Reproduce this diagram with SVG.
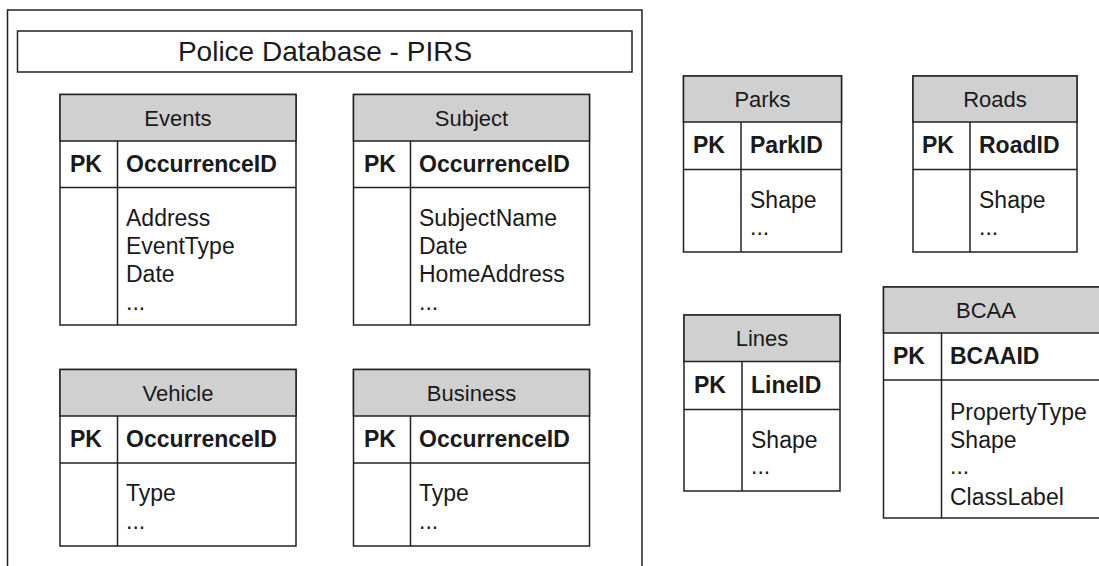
<svg xmlns="http://www.w3.org/2000/svg" width="1099" height="566" viewBox="0 0 1099 566">
  <style>
    .frame { fill: #ffffff; stroke: #222222; stroke-width: 1.5; }
    .head { fill: #d0d0d0; stroke: #222222; stroke-width: 1.5; }
    .cell { fill: #ffffff; stroke: #222222; stroke-width: 1.5; }
    .rule { stroke: #222222; stroke-width: 1.5; }
    text { font-family: "Liberation Sans", Arial, sans-serif; fill: #1a1a1a; }
    .title { font-size: 28px; text-anchor: middle; }
    .hd { font-size: 22px; text-anchor: middle; }
    .pk { font-size: 23px; font-weight: bold; }
    .f { font-size: 23px; }
  </style>

  <!-- PIRS container -->
  <g id="pirs">
    <rect class="frame" x="7.5" y="10" width="634.5" height="600"/>
    <rect class="frame" x="17.5" y="31" width="614.5" height="41"/>
    <text class="title" x="325" y="61">Police Database - PIRS</text>
  </g>

  <!-- Events -->
  <g id="events">
    <rect class="cell" x="60" y="94.5" width="236" height="230.5"/>
    <rect class="head" x="60" y="94.5" width="236" height="46.5"/>
    <line class="rule" x1="60" y1="187.5" x2="296" y2="187.5"/>
    <line class="rule" x1="117.5" y1="141" x2="117.5" y2="325"/>
    <text class="hd" x="178" y="126">Events</text>
    <text class="pk" x="70" y="172">PK</text>
    <text class="pk" x="126" y="172">OccurrenceID</text>
    <text class="f" x="126" y="226">Address</text>
    <text class="f" x="126" y="254">EventType</text>
    <text class="f" x="126" y="282">Date</text>
    <text class="f" x="126" y="310">...</text>
  </g>

  <!-- Subject -->
  <g id="subject">
    <rect class="cell" x="353.5" y="94.5" width="236" height="230.5"/>
    <rect class="head" x="353.5" y="94.5" width="236" height="46.5"/>
    <line class="rule" x1="353.5" y1="187.5" x2="589.5" y2="187.5"/>
    <line class="rule" x1="410.5" y1="141" x2="410.5" y2="325"/>
    <text class="hd" x="471.5" y="126">Subject</text>
    <text class="pk" x="364" y="172">PK</text>
    <text class="pk" x="419" y="172">OccurrenceID</text>
    <text class="f" x="419" y="226">SubjectName</text>
    <text class="f" x="419" y="254">Date</text>
    <text class="f" x="419" y="282">HomeAddress</text>
    <text class="f" x="419" y="310">...</text>
  </g>

  <!-- Vehicle -->
  <g id="vehicle">
    <rect class="cell" x="60" y="369.5" width="236" height="176.5"/>
    <rect class="head" x="60" y="369.5" width="236" height="46.5"/>
    <line class="rule" x1="60" y1="463" x2="296" y2="463"/>
    <line class="rule" x1="117.5" y1="416" x2="117.5" y2="546"/>
    <text class="hd" x="178" y="401">Vehicle</text>
    <text class="pk" x="70" y="447">PK</text>
    <text class="pk" x="126" y="447">OccurrenceID</text>
    <text class="f" x="126" y="501">Type</text>
    <text class="f" x="126" y="529">...</text>
  </g>

  <!-- Business -->
  <g id="business">
    <rect class="cell" x="353.5" y="369.5" width="236" height="176.5"/>
    <rect class="head" x="353.5" y="369.5" width="236" height="46.5"/>
    <line class="rule" x1="353.5" y1="463" x2="589.5" y2="463"/>
    <line class="rule" x1="410.5" y1="416" x2="410.5" y2="546"/>
    <text class="hd" x="471.5" y="401">Business</text>
    <text class="pk" x="364" y="447">PK</text>
    <text class="pk" x="419" y="447">OccurrenceID</text>
    <text class="f" x="419" y="501">Type</text>
    <text class="f" x="419" y="529">...</text>
  </g>

  <!-- Parks -->
  <g id="parks">
    <rect class="cell" x="683.5" y="76" width="158" height="176"/>
    <rect class="head" x="683.5" y="76" width="158" height="46"/>
    <line class="rule" x1="683.5" y1="169.5" x2="841.5" y2="169.5"/>
    <line class="rule" x1="741" y1="122" x2="741" y2="252"/>
    <text class="hd" x="762.5" y="107">Parks</text>
    <text class="pk" x="693" y="153">PK</text>
    <text class="pk" x="750" y="153">ParkID</text>
    <text class="f" x="750" y="208">Shape</text>
    <text class="f" x="750" y="235">...</text>
  </g>

  <!-- Roads -->
  <g id="roads">
    <rect class="cell" x="913" y="76" width="164" height="176"/>
    <rect class="head" x="913" y="76" width="164" height="46"/>
    <line class="rule" x1="913" y1="169.5" x2="1077" y2="169.5"/>
    <line class="rule" x1="970" y1="122" x2="970" y2="252"/>
    <text class="hd" x="995" y="107">Roads</text>
    <text class="pk" x="922" y="153">PK</text>
    <text class="pk" x="979" y="153">RoadID</text>
    <text class="f" x="979" y="208">Shape</text>
    <text class="f" x="979" y="235">...</text>
  </g>

  <!-- Lines -->
  <g id="lines">
    <rect class="cell" x="684" y="315" width="156" height="176"/>
    <rect class="head" x="684" y="315" width="156" height="46.5"/>
    <line class="rule" x1="684" y1="409.5" x2="840" y2="409.5"/>
    <line class="rule" x1="742" y1="361.5" x2="742" y2="491"/>
    <text class="hd" x="762" y="346">Lines</text>
    <text class="pk" x="694" y="393">PK</text>
    <text class="pk" x="751" y="393">LineID</text>
    <text class="f" x="751" y="448">Shape</text>
    <text class="f" x="751" y="474">...</text>
  </g>

  <!-- BCAA (runs past the right edge) -->
  <g id="bcaa">
    <rect class="cell" x="883.5" y="287" width="240" height="231"/>
    <rect class="head" x="883.5" y="287" width="240" height="46"/>
    <line class="rule" x1="883.5" y1="380" x2="1123.5" y2="380"/>
    <line class="rule" x1="941.5" y1="333" x2="941.5" y2="518"/>
    <text class="hd" x="986" y="318">BCAA</text>
    <text class="pk" x="893" y="364">PK</text>
    <text class="pk" x="950" y="364">BCAAID</text>
    <text class="f" x="950" y="420">PropertyType</text>
    <text class="f" x="950" y="448">Shape</text>
    <text class="f" x="950" y="474">...</text>
    <text class="f" x="950" y="505">ClassLabel</text>
  </g>

  <!-- no connectors between tables -->
  <g id="connectors"/>
</svg>
